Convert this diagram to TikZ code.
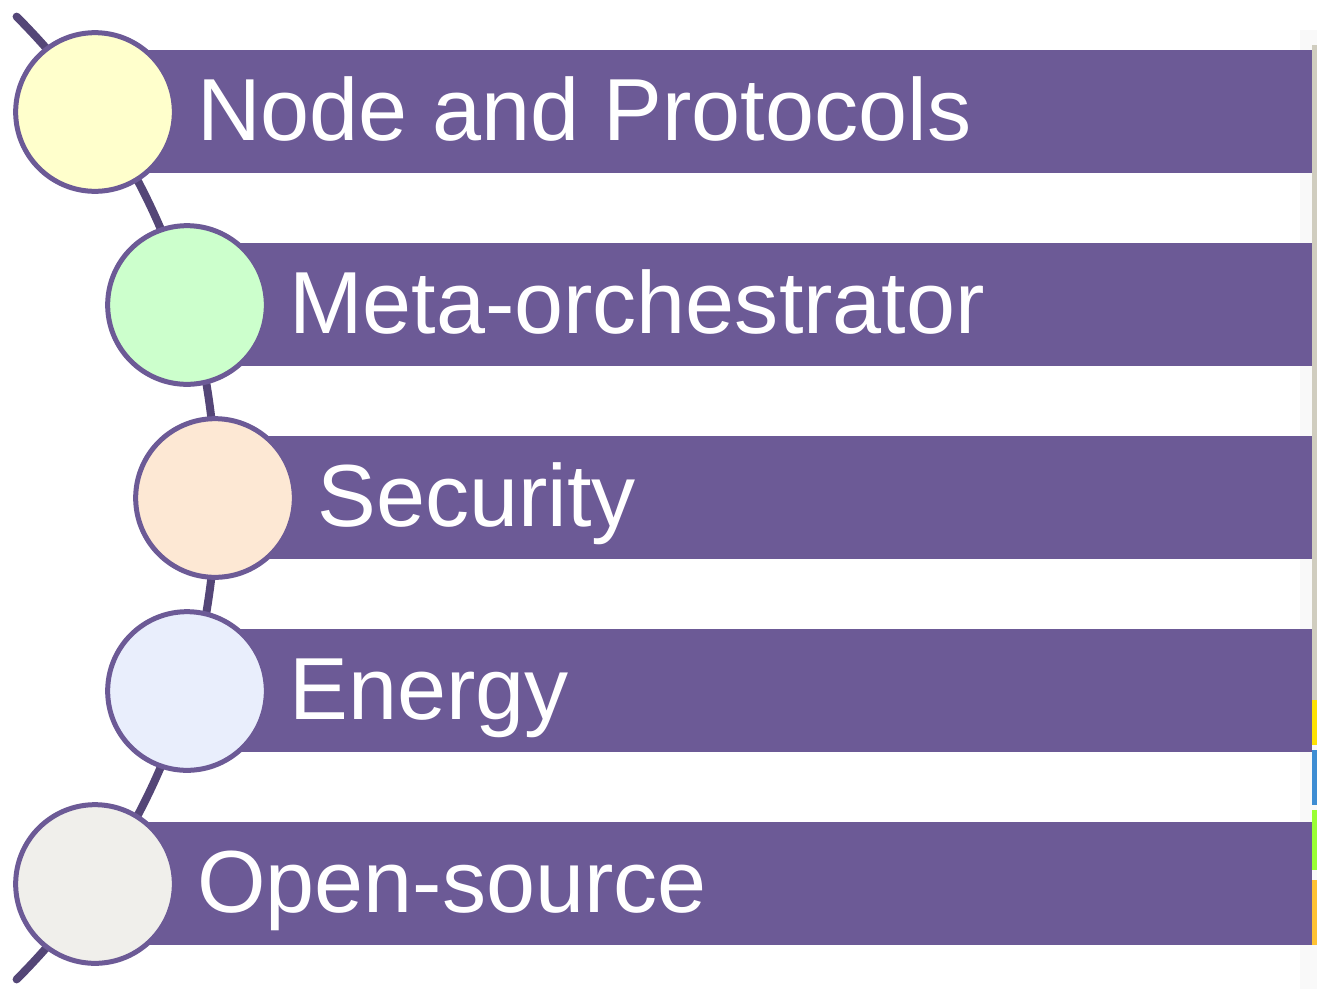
\documentclass[tikz,border=0pt]{standalone}
\usepackage{fontspec}
\setmainfont{Liberation Sans}
\usetikzlibrary{calc}
\definecolor{barpurple}{HTML}{6C5A96}
\definecolor{spine}{HTML}{544677}
\definecolor{fillA}{HTML}{FFFFCC}
\definecolor{fillB}{HTML}{CCFFCC}
\definecolor{fillC}{HTML}{FDE8D4}
\definecolor{fillD}{HTML}{E9EEFC}
\definecolor{fillE}{HTML}{F0EFEB}
\definecolor{edgegray}{HTML}{D0CDBF}
\tikzset{
  bar/.style={fill=barpurple},
  spineline/.style={draw=spine, line width=6pt, line cap=round},
  bullet/.style={circle, draw=barpurple, line width=3.75pt, minimum size=119pt, inner sep=0pt},
  label/.style={anchor=base west, inner sep=0pt, text=white, font=\fontsize{66.1}{70}\selectfont},
}
\begin{document}
\begin{tikzpicture}[x=0.75pt, y=-0.75pt]
  \useasboundingbox (0,0) rectangle (1317,989);

  % thin edge strip on the right border
  \fill[gray!5] (1300,30) rectangle (1317,989);
  \fill[edgegray] (1312,45) rectangle (1317,700);
  \fill[yellow!85!orange] (1312,700) rectangle (1317,745);
  \fill[cyan!60!blue!80] (1312,750) rectangle (1317,805);
  \fill[green!50!yellow!80] (1312,810) rectangle (1317,870);
  \fill[orange!60!yellow!80] (1312,880) rectangle (1317,945);

  % horizontal bands
  \foreach \cx/\ty in {96/50, 188/243, 216/436, 188/629, 96/822}
    \fill[bar] (\cx,\ty) rectangle (1312,\ty+123);

  % curved spine through the bullet centres
  \coordinate (spinecentre) at (-464.8,498);
  \coordinate (spinetop) at ($(spinecentre)+(-45:510.6pt)$);
  \draw[spineline] (spinetop) arc[start angle=-45, end angle=45, radius=510.6pt];

  % bullets
  \node[bullet, fill=fillA] (b1) at (95,112)  {};
  \node[bullet, fill=fillB] (b2) at (187,305) {};
  \node[bullet, fill=fillC] (b3) at (215,498) {};
  \node[bullet, fill=fillD] (b4) at (187,691) {};
  \node[bullet, fill=fillE] (b5) at (95,884)  {};

  % band labels
  \node[label] (t1) at (197,140) {Node and Protocols};
  \node[label] (t2) at (289,333) {Meta-orchestrator};
  \node[label] (t3) at (317,526) {Security};
  \node[label] (t4) at (289,719) {Energy};
  \node[label] (t5) at (197,912) {Open-source};
\end{tikzpicture}
\end{document}
